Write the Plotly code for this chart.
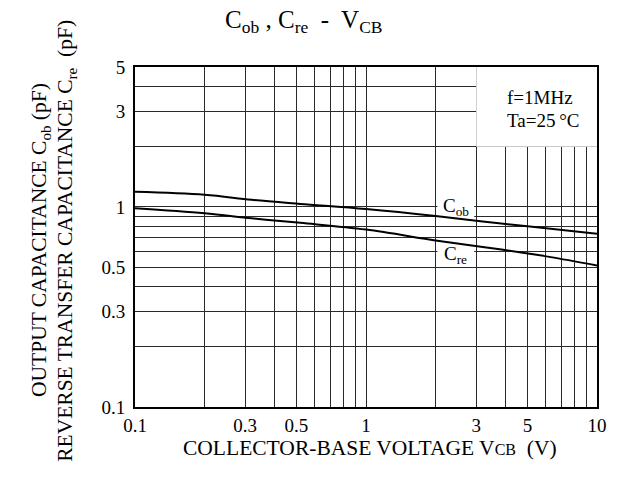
import math
import plotly.graph_objects as go

# ---- data ----
cob_v = [0.1, 0.2, 0.32, 0.52, 1.0, 2.0, 3.2, 5.0, 10.0]
cob_c = [1.19, 1.15, 1.085, 1.035, 0.975, 0.90, 0.845, 0.80, 0.735]
cre_v = [0.1, 0.2, 0.32, 0.52, 1.0, 2.0, 3.2, 4.1, 5.1, 6.3, 10.0]
cre_c = [0.985, 0.93, 0.877, 0.832, 0.77, 0.68, 0.63, 0.606, 0.583, 0.561, 0.51]

x_grid = [0.1, 0.2, 0.3, 0.4, 0.5, 0.6, 0.7, 0.8, 0.9, 1, 2, 3, 4, 5, 6, 7, 8, 9, 10]
x_labels = {0.1: "0.1", 0.3: "0.3", 0.5: "0.5", 1: "1", 3: "3", 5: "5", 10: "10"}
y_grid = [0.1, 0.2, 0.3, 0.4, 0.5, 0.6, 0.7, 0.8, 0.9, 1, 2, 3, 4, 5]
y_labels = {0.1: "0.1", 0.3: "0.3", 0.5: "0.5", 1: "1", 3: "3", 5: "5"}

FONT = "Liberation Serif, Times New Roman, serif"
GRID = "#2a2a2a"
L = math.log10

fig = go.Figure()
fig.add_trace(go.Scatter(x=cob_v, y=cob_c, mode="lines", line=dict(color="black", width=2, shape="spline"),
                         showlegend=False, hoverinfo="skip"))
fig.add_trace(go.Scatter(x=cre_v, y=cre_c, mode="lines", line=dict(color="black", width=2, shape="spline"),
                         showlegend=False, hoverinfo="skip"))

# white areas that hide the grid behind the text
fig.add_shape(type="rect", xref="x", yref="y", x0=3.0, x1=10, y0=2.0, y1=5,
              fillcolor="white", line_width=0, layer="between")
fig.add_shape(type="rect", xref="x", yref="y", x0=2.04, x1=2.94, y0=0.89, y1=1.10,
              fillcolor="white", line_width=0, layer="between")
fig.add_shape(type="rect", xref="x", yref="y", x0=2.04, x1=2.94, y0=0.53, y1=0.665,
              fillcolor="white", line_width=0, layer="between")

fig.add_annotation(x=L(2.45), y=L(1.0), xref="x", yref="y", text="C<sub>ob</sub>", showarrow=False,
                   font=dict(family=FONT, size=19, color="black"))
fig.add_annotation(x=L(2.45), y=L(0.575), xref="x", yref="y", text="C<sub>re</sub>", showarrow=False,
                   font=dict(family=FONT, size=19, color="black"))
fig.add_annotation(x=0.60, y=0.548, xref="x", yref="y", text="f=1MHz", showarrow=False,
                   xanchor="left", font=dict(family=FONT, size=19, color="black"))
fig.add_annotation(x=0.60, y=0.433, xref="x", yref="y", text="Ta=25\u2009°C", showarrow=False,
                   xanchor="left", font=dict(family=FONT, size=19, color="black"))

# title and axis titles
fig.add_annotation(x=0.365, y=1.135, xref="paper", yref="paper", text="C<sub>ob</sub> , C<sub>re</sub>  -  V<sub>CB</sub>",
                   showarrow=False, font=dict(family=FONT, size=25, color="black"), yanchor="middle")
fig.add_annotation(x=0.508, y=-0.12, xref="paper", yref="paper",
                   text="COLLECTOR-BASE VOLTAGE V<span style='font-size:16px'>CB</span>  (V)",
                   showarrow=False, font=dict(family=FONT, size=21.5, color="black"), yanchor="middle")
fig.add_annotation(x=-0.238, y=0.49, xref="paper", yref="paper", textangle=-90,
                   text="OUTPUT CAPACITANCE C<sub>ob</sub> (pF)",
                   showarrow=False, font=dict(family=FONT, size=21.5, color="black"))
fig.add_annotation(x=-0.182, y=0.49, xref="paper", yref="paper", textangle=-90,
                   text="REVERSE TRANSFER CAPACITANCE C<sub>re</sub>  (pF)",
                   showarrow=False, font=dict(family=FONT, size=21.5, color="black"))

fig.update_xaxes(type="log", range=[-1, 1], tickvals=x_grid,
                 ticktext=[x_labels.get(v, "") for v in x_grid],
                 showgrid=True, gridcolor=GRID, gridwidth=1, zeroline=False,
                 showline=True, linecolor="black", linewidth=2, mirror=True,
                 ticks="", ticklabelstandoff=0,
                 tickfont=dict(family=FONT, size=19, color="black"))
fig.update_yaxes(type="log", range=[-1, 0.69897], tickvals=y_grid,
                 ticktext=[y_labels.get(v, "") for v in y_grid],
                 showgrid=True, gridcolor=GRID, gridwidth=1, zeroline=False,
                 showline=True, linecolor="black", linewidth=2, mirror=True,
                 ticks="", ticklabelstandoff=4,
                 tickfont=dict(family=FONT, size=19, color="black"))

fig.update_layout(width=621, height=491, margin=dict(l=135, r=24, t=67, b=84),
                  plot_bgcolor="white", paper_bgcolor="white", showlegend=False)

fig.write_html("out.html", config={"displayModeBar": False},
               post_script="document.body.style.margin='0';")
